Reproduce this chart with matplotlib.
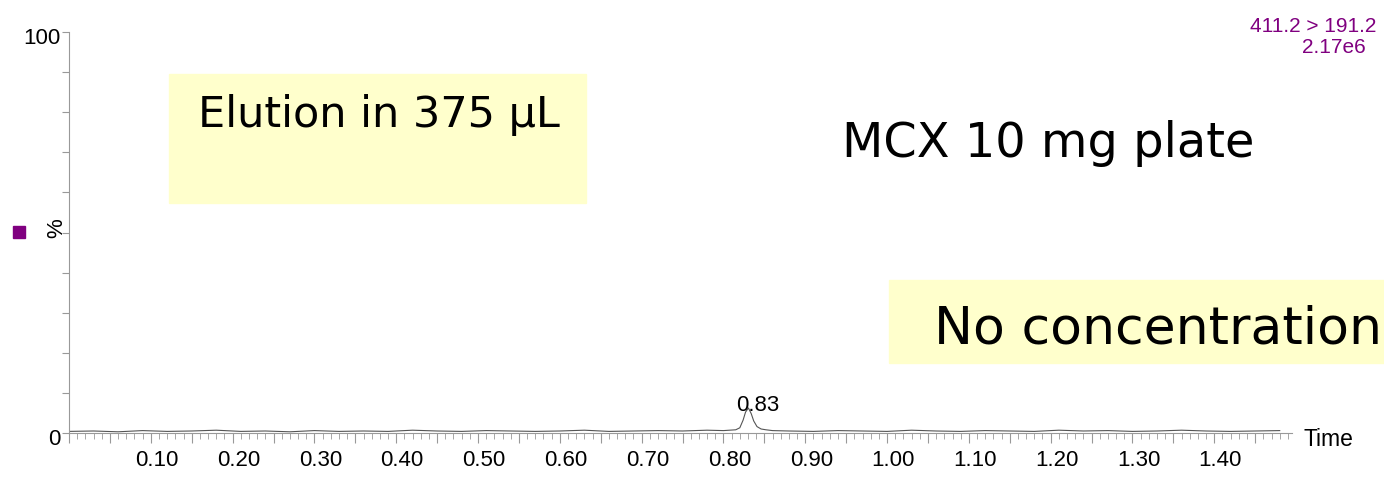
import matplotlib.pyplot as plt
import matplotlib.ticker as ticker
import matplotlib.transforms as mtransforms
from matplotlib.patches import Rectangle

# chromatogram trace (time in min, % of max)
times = [0.00, 0.03, 0.06, 0.09, 0.12, 0.15, 0.18, 0.21, 0.24, 0.27, 0.30, 0.33,
         0.36, 0.39, 0.42, 0.45, 0.48, 0.51, 0.54, 0.57, 0.60, 0.63, 0.66, 0.69,
         0.72, 0.75, 0.78, 0.80, 0.815, 0.82, 0.824, 0.827, 0.8305, 0.834, 0.837,
         0.841, 0.846, 0.852, 0.86, 0.88, 0.91, 0.94, 0.97, 1.00, 1.03, 1.06, 1.09,
         1.12, 1.15, 1.18, 1.21, 1.24, 1.27, 1.30, 1.33, 1.36, 1.39, 1.42, 1.45, 1.48]
intensity = [0.4, 0.5, 0.3, 0.6, 0.4, 0.5, 0.7, 0.4, 0.5, 0.3, 0.6, 0.4,
             0.5, 0.4, 0.7, 0.5, 0.4, 0.6, 0.5, 0.4, 0.5, 0.7, 0.4, 0.5,
             0.6, 0.5, 0.7, 0.6, 0.8, 1.3, 3.2, 5.2, 6.25, 4.8, 3.0,
             1.6, 1.0, 0.8, 0.6, 0.5, 0.4, 0.6, 0.5, 0.4, 0.7, 0.5, 0.4,
             0.6, 0.5, 0.4, 0.7, 0.5, 0.6, 0.4, 0.5, 0.7, 0.5, 0.4, 0.5, 0.6]

peak_time = 0.83
peak_height = 6.25

x_major = [0.10, 0.20, 0.30, 0.40, 0.50, 0.60, 0.70, 0.80, 0.90, 1.00, 1.10, 1.20, 1.30, 1.40]

FONT = "Liberation Sans"

fig = plt.figure(figsize=(13.84, 4.83), dpi=100)
ax = fig.add_axes([69 / 1384, 1 - 433 / 483, (1292 - 69) / 1384, 401 / 483])

ax.plot(times, intensity, color="#555555", lw=0.8)
ax.annotate(f"{peak_time:.2f}", (0.8305, peak_height), xytext=(6.5, -2),
            textcoords="offset points", ha="center", va="baseline",
            fontsize=16, family=FONT)

ax.set_xlim(0, 1.495)
ax.set_ylim(0, 100)

for s in ["top", "right"]:
    ax.spines[s].set_visible(False)
for s in ["left", "bottom"]:
    ax.spines[s].set_color("#999999")
    ax.spines[s].set_linewidth(0.8)

# long ticks every 0.05, labels every 0.10, short ticks every 0.01
ax.xaxis.set_major_locator(ticker.MultipleLocator(0.05))
ax.xaxis.set_major_formatter(ticker.FuncFormatter(
    lambda v, pos: f"{v:.2f}" if any(abs(v - m) < 1e-6 for m in x_major) else ""))
ax.xaxis.set_minor_locator(ticker.MultipleLocator(0.01))
ax.tick_params(axis="x", which="major", direction="out", length=7, color="#999999",
               labelsize=16, pad=5)
ax.tick_params(axis="x", which="minor", direction="out", length=4, color="#999999")

ax.set_yticks(range(0, 101, 10))
ax.set_yticklabels(["0"] + [""] * 9 + ["100"])
ax.tick_params(axis="y", direction="out", length=5, color="#999999", labelsize=16, pad=1)

shift_x = mtransforms.ScaledTranslation(6 / 100, 0, fig.dpi_scale_trans)
shift_y = mtransforms.ScaledTranslation(0, -4 / 100, fig.dpi_scale_trans)
for lbl in ax.get_xticklabels():
    lbl.set_family(FONT)
    lbl.set_transform(lbl.get_transform() + shift_x)
for lbl in ax.get_yticklabels():
    lbl.set_family(FONT)
    lbl.set_transform(lbl.get_transform() + shift_y)

fig.text(1303 / 1384, 1 - 439 / 483, "Time", ha="left", va="center",
         fontsize=16.5, family=FONT)
fig.text(57 / 1384, 1 - 228 / 483, "%", rotation=90, ha="center", va="center",
         fontsize=16, family=FONT)
fig.patches.append(Rectangle((13 / 1384, 1 - 238 / 483), 12 / 1384, 12 / 483,
                             transform=fig.transFigure, color="#800080", figure=fig))

# trace name and scale
fig.text(1376 / 1384, 1 - 32 / 483, "411.2 > 191.2", ha="right", va="baseline",
         color="#800080", fontsize=15, family=FONT)
fig.text(1366 / 1384, 1 - 53 / 483, "2.17e6", ha="right", va="baseline",
         color="#800080", fontsize=15, family=FONT)

# annotation boxes
fig.patches.append(Rectangle((169 / 1384, 1 - 203 / 483), 417 / 1384, 129 / 483,
                             transform=fig.transFigure, color="#FFFFCC", figure=fig, zorder=0))
fig.text(198 / 1384, 1 - 127 / 483, "Elution in 375 µL", ha="left", va="baseline",
         fontsize=31, family="DejaVu Sans")

fig.text(842 / 1384, 1 - 157 / 483, "MCX 10 mg plate", ha="left", va="baseline",
         fontsize=34.5, family="DejaVu Sans")

fig.patches.append(Rectangle((889 / 1384, 1 - 363 / 483), 495 / 1384, 83 / 483,
                             transform=fig.transFigure, color="#FFFFCC", figure=fig, zorder=0))
fig.text(934 / 1384, 1 - 344 / 483, "No concentration", ha="left", va="baseline",
         fontsize=37.5, family="DejaVu Sans")

fig.savefig("out.png", dpi=100)
